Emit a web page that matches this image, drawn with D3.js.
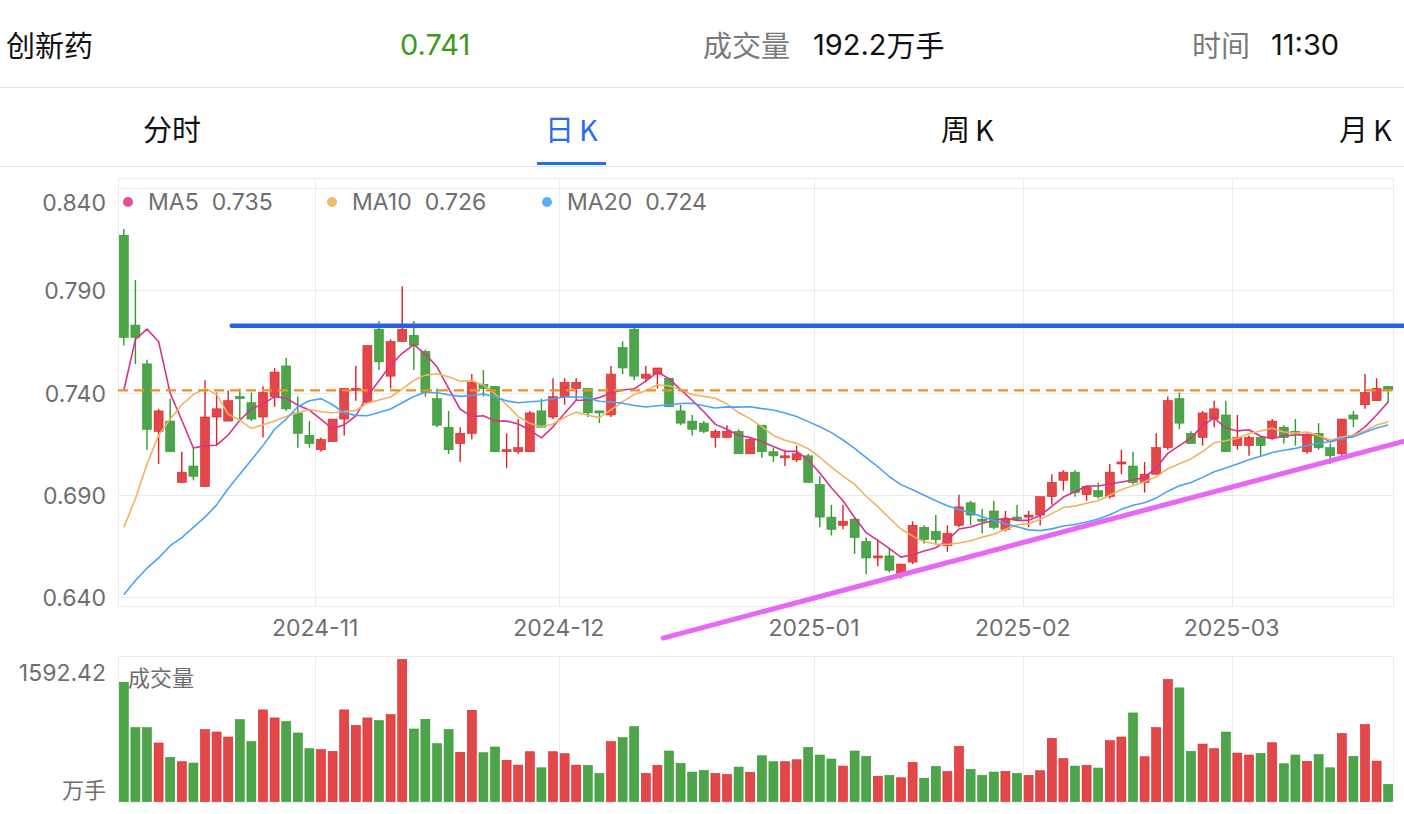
<!DOCTYPE html>
<html>
<head>
<meta charset="utf-8">
<script src="https://cdn.jsdelivr.net/npm/d3@7"></script>
<style>
  body { margin: 0; background: #fff; }
  text { font-family: "Inter", "Noto Sans CJK SC", sans-serif; }
  .cjk { font-family: "Noto Sans CJK SC", sans-serif; }
</style>
</head>
<body>
<div id="chart"></div>
<script>
// trading days shown on the chart
const dates = [
  "2024-10-09","2024-10-10","2024-10-11","2024-10-14","2024-10-15","2024-10-16","2024-10-17","2024-10-18","2024-10-21","2024-10-22",
  "2024-10-23","2024-10-24","2024-10-25","2024-10-28","2024-10-29","2024-10-30","2024-10-31","2024-11-01","2024-11-04","2024-11-05",
  "2024-11-06","2024-11-07","2024-11-08","2024-11-11","2024-11-12","2024-11-13","2024-11-14","2024-11-15","2024-11-18","2024-11-19",
  "2024-11-20","2024-11-21","2024-11-22","2024-11-25","2024-11-26","2024-11-27","2024-11-28","2024-11-29","2024-12-02","2024-12-03",
  "2024-12-04","2024-12-05","2024-12-06","2024-12-09","2024-12-10","2024-12-11","2024-12-12","2024-12-13","2024-12-16","2024-12-17",
  "2024-12-18","2024-12-19","2024-12-20","2024-12-23","2024-12-24","2024-12-25","2024-12-26","2024-12-27","2024-12-30","2024-12-31",
  "2025-01-02","2025-01-03","2025-01-06","2025-01-07","2025-01-08","2025-01-09","2025-01-10","2025-01-13","2025-01-14","2025-01-15",
  "2025-01-16","2025-01-17","2025-01-20","2025-01-21","2025-01-22","2025-01-23","2025-01-24","2025-01-27","2025-02-05","2025-02-06",
  "2025-02-07","2025-02-10","2025-02-11","2025-02-12","2025-02-13","2025-02-14","2025-02-17","2025-02-18","2025-02-19","2025-02-20",
  "2025-02-21","2025-02-24","2025-02-25","2025-02-26","2025-02-27","2025-02-28","2025-03-03","2025-03-04","2025-03-05","2025-03-06",
  "2025-03-07","2025-03-10","2025-03-11","2025-03-12","2025-03-13","2025-03-14","2025-03-17","2025-03-18","2025-03-19","2025-03-20"
];

const opens = [
  0.817,0.773,0.754,0.721,0.726,0.696,0.704,0.694,0.728,0.726, 0.738,0.735,0.728,0.738,0.753,0.730,0.719,0.712,0.716,0.727,
  0.741,0.735,0.771,0.748,0.765,0.768,0.760,0.737,0.723,0.715, 0.720,0.744,0.743,0.711,0.711,0.711,0.731,0.728,0.738,0.742,
  0.742,0.731,0.729,0.762,0.771,0.747,0.749,0.747,0.731,0.726, 0.725,0.718,0.718,0.721,0.710,0.724,0.711,0.708,0.707,0.709,
  0.695,0.679,0.675,0.678,0.667,0.659,0.660,0.651,0.657,0.674, 0.672,0.665,0.675,0.686,0.678,0.682,0.673,0.679,0.679,0.680,
  0.689,0.697,0.701,0.690,0.692,0.689,0.705,0.704,0.696,0.700, 0.713,0.737,0.720,0.718,0.727,0.729,0.714,0.714,0.718,0.718,
  0.723,0.721,0.711,0.720,0.713,0.710,0.729,0.734,0.736,0.743
];
const highs = [
  0.820,0.795,0.756,0.732,0.737,0.711,0.713,0.746,0.740,0.741, 0.742,0.740,0.743,0.752,0.757,0.738,0.726,0.718,0.727,0.742,
  0.753,0.763,0.775,0.766,0.792,0.775,0.761,0.742,0.731,0.723, 0.749,0.751,0.743,0.720,0.727,0.731,0.737,0.747,0.747,0.747,
  0.742,0.731,0.753,0.765,0.773,0.753,0.752,0.747,0.734,0.729, 0.726,0.722,0.724,0.722,0.718,0.724,0.713,0.712,0.714,0.710,
  0.699,0.685,0.685,0.679,0.669,0.668,0.664,0.656,0.677,0.675, 0.680,0.675,0.690,0.687,0.683,0.687,0.682,0.685,0.682,0.689,
  0.700,0.702,0.702,0.694,0.696,0.705,0.712,0.711,0.706,0.720, 0.738,0.740,0.721,0.731,0.736,0.736,0.729,0.719,0.718,0.727,
  0.724,0.727,0.720,0.725,0.715,0.727,0.731,0.749,0.747,0.743
];
const lows = [
  0.763,0.754,0.712,0.705,0.711,0.696,0.697,0.694,0.714,0.726, 0.727,0.726,0.718,0.733,0.731,0.713,0.713,0.711,0.716,0.719,
  0.736,0.735,0.751,0.742,0.765,0.751,0.738,0.723,0.710,0.706, 0.717,0.738,0.711,0.703,0.710,0.711,0.723,0.727,0.734,0.736,
  0.728,0.725,0.728,0.749,0.746,0.745,0.742,0.733,0.724,0.719, 0.720,0.713,0.718,0.710,0.710,0.708,0.706,0.704,0.706,0.696,
  0.674,0.670,0.673,0.661,0.651,0.655,0.652,0.649,0.656,0.666, 0.666,0.662,0.674,0.675,0.671,0.673,0.672,0.677,0.674,0.675,
  0.685,0.692,0.689,0.687,0.688,0.688,0.700,0.695,0.691,0.700, 0.712,0.722,0.715,0.714,0.723,0.711,0.712,0.709,0.709,0.717,
  0.715,0.714,0.710,0.712,0.705,0.709,0.723,0.732,0.736,0.735
];
const closes = [
  0.767,0.767,0.722,0.731,0.711,0.701,0.699,0.728,0.732,0.736, 0.737,0.727,0.740,0.750,0.732,0.720,0.715,0.717,0.727,0.742,
  0.742,0.763,0.755,0.765,0.771,0.763,0.740,0.724,0.712,0.720, 0.745,0.742,0.711,0.712,0.713,0.730,0.723,0.738,0.745,0.745,
  0.730,0.730,0.749,0.752,0.748,0.749,0.752,0.733,0.725,0.722, 0.721,0.721,0.721,0.710,0.717,0.711,0.709,0.709,0.710,0.696,
  0.679,0.673,0.677,0.669,0.659,0.660,0.653,0.656,0.675,0.668, 0.668,0.671,0.684,0.680,0.677,0.674,0.678,0.678,0.680,0.689,
  0.696,0.701,0.691,0.694,0.689,0.701,0.706,0.696,0.700,0.713, 0.736,0.725,0.715,0.730,0.732,0.711,0.718,0.718,0.714,0.726,
  0.718,0.720,0.719,0.713,0.709,0.727,0.727,0.740,0.742,0.741
];
// 成交量 (万手)
const volumes = [
  1338,828,828,656,495,446,431,806,779,723, 918,671,1027,937,896,768,592,581,562,1027,
  854,937,907,974,1592.42,813,922,648,806,551, 1023,547,611,461,408,558,378,558,536,408,
  405,315,671,716,839,315,405,566,427,330, 348,315,304,386,326,513,446,446,468,607,
  521,476,397,566,506,281,292,266,438,262, 393,337,618,360,292,330,337,315,292,345,
  708,480,397,405,375,682,723,993,502,828, 1368,1274,562,644,592,779,543,521,540,659,
  423,521,450,525,378,761,506,862,453,192.2
];

// moving average values at the left edge (earlier history is off-chart)
const ma5Head = [0.741, 0.766, 0.771, 0.765];
const ma10Head = [0.674, 0.688, 0.705, 0.719, 0.727, 0.734, 0.739, 0.742, 0.739];
const ma20Head = [0.641, 0.648, 0.654, 0.659, 0.665, 0.669, 0.674, 0.679, 0.685, 0.693,
                  0.700, 0.707, 0.714, 0.722, 0.727, 0.733, 0.736, 0.737, 0.734];

const priceTicks = [0.840, 0.790, 0.740, 0.690, 0.640];
const monthTicks = ["2024-11-01", "2024-12-02", "2025-01-02", "2025-02-05", "2025-03-03"];
const monthLabels = ["2024-11", "2024-12", "2025-01", "2025-02", "2025-03"];

// hand drawn lines on the chart, in [candle index, price]
const resistanceLine = [[9.3, 0.7727], [110.4, 0.7727]];
const supportLine = [[46.5, 0.6198], [110.4, 0.7162]];

const lastPrice = 0.741;
const headerItems = { name: "创新药", price: "0.741", volume: "192.2", volumeUnit: "万手", time: "11:30" };
const tabs = [["分", "时"], ["日", "K"], ["周", "K"], ["月", "K"]];

//layout
const svgWidth = 1404, svgHeight = 814;
const plot = { left: 118, right: 1394, top: 178, bottom: 607 };
const vol = { top: 656.5, bottom: 802 };

const RED = "#e2474a", RED_LINE = "#e01f24";
const GREEN = "#4ea44a", GREEN_LINE = "#2f9a2b";
const MA_COLORS = ["#d9328a", "#f1b265", "#4aa3f6"];
const DOT_COLORS = ["#e2509c", "#f2b870", "#5aaef7"];
const LABEL = "#6e6e6e";

const svg = d3.select("#chart").append("svg")
  .attr("width", svgWidth)
  .attr("height", svgHeight);

//header
svg.append("line").attr("x1", 0).attr("x2", svgWidth).attr("y1", 87.5).attr("y2", 87.5)
  .attr("stroke", "#e6e6e6");
svg.append("line").attr("x1", 0).attr("x2", svgWidth).attr("y1", 166.5).attr("y2", 166.5)
  .attr("stroke", "#e6e6e6");

const header = svg.append("g").attr("dominant-baseline", "central");
header.append("text").attr("class", "cjk").attr("x", 6).attr("y", 44).attr("font-size", 29)
  .attr("fill", "#111").text(headerItems.name);
header.append("text").attr("x", 400).attr("y", 44).attr("font-size", 29)
  .attr("fill", "#3d9a21").text(headerItems.price);
header.append("text").attr("class", "cjk").attr("x", 703).attr("y", 44).attr("font-size", 29)
  .attr("fill", "#7a7a7a").text("成交量");
const volText = header.append("text").attr("x", 813).attr("y", 44).attr("font-size", 29)
  .attr("fill", "#111");
volText.append("tspan").text(headerItems.volume);
volText.append("tspan").attr("class", "cjk").text(headerItems.volumeUnit);
header.append("text").attr("class", "cjk").attr("x", 1192).attr("y", 44).attr("font-size", 29)
  .attr("fill", "#7a7a7a").text("时间");
header.append("text").attr("x", 1271).attr("y", 44).attr("font-size", 29)
  .attr("fill", "#111").text(headerItems.time);

const tabX = [143, 545, 941, 1339];
const tabText = header.selectAll(".tab").data(tabs).enter().append("text")
  .attr("class", "tab cjk")
  .attr("x", (d, i) => tabX[i])
  .attr("y", 128)
  .attr("font-size", 29)
  .attr("fill", (d, i) => i === 1 ? "#2a6cf0" : "#111");
tabText.append("tspan").text(d => d[0]);
tabText.append("tspan").attr("dx", d => d[1] === "K" ? 5 : 0).text(d => d[1]);
svg.append("rect").attr("x", 537).attr("y", 162).attr("width", 69).attr("height", 3)
  .attr("fill", "#2a6cf0");

//scales
const x = d3.scaleBand().domain(dates).range([plot.left, plot.right]).padding(0);
const xIdx = d3.scaleLinear().domain([-0.5, dates.length - 0.5]).range([plot.left, plot.right]);
const cx = d => x(d) + x.bandwidth() / 2;
const y = d3.scaleLinear().domain([0.635, 0.845]).range([plot.bottom, plot.top]);
const yVol = d3.scaleLinear().domain([0, d3.max(volumes)]).range([801.5, 659.5]);

const candles = dates.map((d, i) => ({
  date: d, open: opens[i], high: highs[i], low: lows[i], close: closes[i], volume: volumes[i]
}));

function movingAvg(head, n) {
  return closes.map((c, i) => i < head.length ? head[i] : d3.mean(closes.slice(i - n + 1, i + 1)));
}
const maSeries = [movingAvg(ma5Head, 5), movingAvg(ma10Head, 10), movingAvg(ma20Head, 20)];

//grid and frames
const grid = svg.append("g").attr("stroke", "#ebebeb").attr("stroke-width", 1);
grid.append("rect").attr("x", plot.left + 0.5).attr("y", plot.top + 0.5)
  .attr("width", plot.right - plot.left - 1).attr("height", plot.bottom - plot.top - 1)
  .attr("fill", "none");
grid.selectAll(".hgrid").data(priceTicks).enter().append("line")
  .attr("x1", plot.left).attr("x2", plot.right)
  .attr("y1", d => Math.round(y(d)) + 0.5).attr("y2", d => Math.round(y(d)) + 0.5);
grid.selectAll(".vgrid").data(monthTicks).enter().append("line")
  .attr("x1", d => Math.round(x(d)) + 0.5).attr("x2", d => Math.round(x(d)) + 0.5)
  .attr("y1", plot.top).attr("y2", plot.bottom);

grid.append("rect").attr("x", plot.left + 0.5).attr("y", vol.top)
  .attr("width", plot.right - plot.left - 1).attr("height", vol.bottom - vol.top)
  .attr("fill", "none");
grid.selectAll(".vgrid2").data(monthTicks).enter().append("line")
  .attr("x1", d => Math.round(x(d)) + 0.5).attr("x2", d => Math.round(x(d)) + 0.5)
  .attr("y1", vol.top).attr("y2", vol.bottom);

//axis labels
svg.append("g").selectAll("text").data(priceTicks).enter().append("text")
  .attr("x", 106)
  .attr("y", d => Math.max(y(d) + 1, 203))
  .attr("text-anchor", "end")
  .attr("dominant-baseline", "central")
  .attr("font-size", 23)
  .attr("fill", LABEL)
  .text(d => d.toFixed(3));

svg.append("g").selectAll("text").data(monthTicks).enter().append("text")
  .attr("x", d => x(d))
  .attr("y", 628)
  .attr("text-anchor", "middle")
  .attr("dominant-baseline", "central")
  .attr("font-size", 23)
  .attr("fill", LABEL)
  .text((d, i) => monthLabels[i]);

svg.append("text").attr("x", 106).attr("y", 673).attr("text-anchor", "end")
  .attr("dominant-baseline", "central").attr("font-size", 23).attr("fill", LABEL)
  .text(d3.max(volumes).toFixed(2));
svg.append("text").attr("class", "cjk").attr("x", 106).attr("y", 788).attr("text-anchor", "end")
  .attr("dominant-baseline", "central").attr("font-size", 22).attr("fill", LABEL)
  .text("万手");
svg.append("text").attr("class", "cjk").attr("x", 128).attr("y", 676)
  .attr("dominant-baseline", "central").attr("font-size", 22).attr("fill", LABEL)
  .text("成交量");

//candles
const up = d => d.close >= d.open;
const bodyW = 9;
const candleG = svg.append("g");
candleG.selectAll(".wick").data(candles).enter().append("line")
  .attr("x1", d => cx(d.date)).attr("x2", d => cx(d.date))
  .attr("y1", d => y(d.high)).attr("y2", d => y(d.low))
  .attr("stroke", d => up(d) ? RED_LINE : GREEN_LINE)
  .attr("stroke-width", 1.4);
candleG.selectAll(".body").data(candles).enter().append("rect")
  .attr("x", d => cx(d.date) - bodyW / 2)
  .attr("y", d => y(Math.max(d.open, d.close)))
  .attr("width", bodyW)
  .attr("height", d => Math.max(1.5, Math.abs(y(d.open) - y(d.close))))
  .attr("fill", d => up(d) ? RED : GREEN)
  .attr("stroke", d => up(d) ? RED_LINE : GREEN_LINE)
  .attr("stroke-width", 0.6);

//moving averages
const maLine = d3.line()
  .x((v, i) => cx(dates[i]))
  .y(v => y(v));
svg.append("g").selectAll("path").data(maSeries).enter().append("path")
  .attr("d", maLine)
  .attr("fill", "none")
  .attr("stroke", (d, i) => MA_COLORS[i])
  .attr("stroke-width", 1.6)
  .attr("stroke-linejoin", "round");

//current price line
svg.append("line")
  .attr("x1", plot.left).attr("x2", plot.right)
  .attr("y1", y(lastPrice)).attr("y2", y(lastPrice))
  .attr("stroke", "#ef8f2a").attr("stroke-width", 2.2)
  .attr("stroke-dasharray", "10,6");

//drawn lines
const drawLine = d3.line().x(p => xIdx(p[0])).y(p => y(p[1]));
svg.append("path").attr("d", drawLine(resistanceLine))
  .attr("stroke", "#2761ea").attr("stroke-width", 4.5).attr("fill", "none")
  .attr("stroke-linecap", "round");
svg.append("path").attr("d", drawLine(supportLine))
  .attr("stroke", "#e768f2").attr("stroke-width", 5).attr("fill", "none")
  .attr("stroke-linecap", "round");

//legend
const maNames = ["MA5", "MA10", "MA20"];
const legendX = [128, 332, 547];
const legend = svg.append("g").selectAll("g").data(maNames).enter().append("g")
  .attr("transform", (d, i) => `translate(${legendX[i]}, 202)`);
legend.append("circle").attr("r", 5).attr("fill", (d, i) => DOT_COLORS[i]);
const legendText = legend.append("text")
  .attr("x", 20)
  .attr("dominant-baseline", "central")
  .attr("font-size", 23)
  .attr("fill", LABEL);
legendText.append("tspan").text(d => d);
legendText.append("tspan").attr("dx", 13)
  .text((d, i) => maSeries[i][maSeries[i].length - 1].toFixed(3));

//volume bars
svg.append("g").selectAll("rect").data(candles).enter().append("rect")
  .attr("x", d => cx(d.date) - bodyW / 2)
  .attr("y", d => yVol(d.volume))
  .attr("width", bodyW)
  .attr("height", d => yVol(0) - yVol(d.volume))
  .attr("fill", d => up(d) ? RED : GREEN)
  .attr("stroke", d => up(d) ? RED_LINE : GREEN_LINE)
  .attr("stroke-width", 0.6);
</script>
</body>
</html>
